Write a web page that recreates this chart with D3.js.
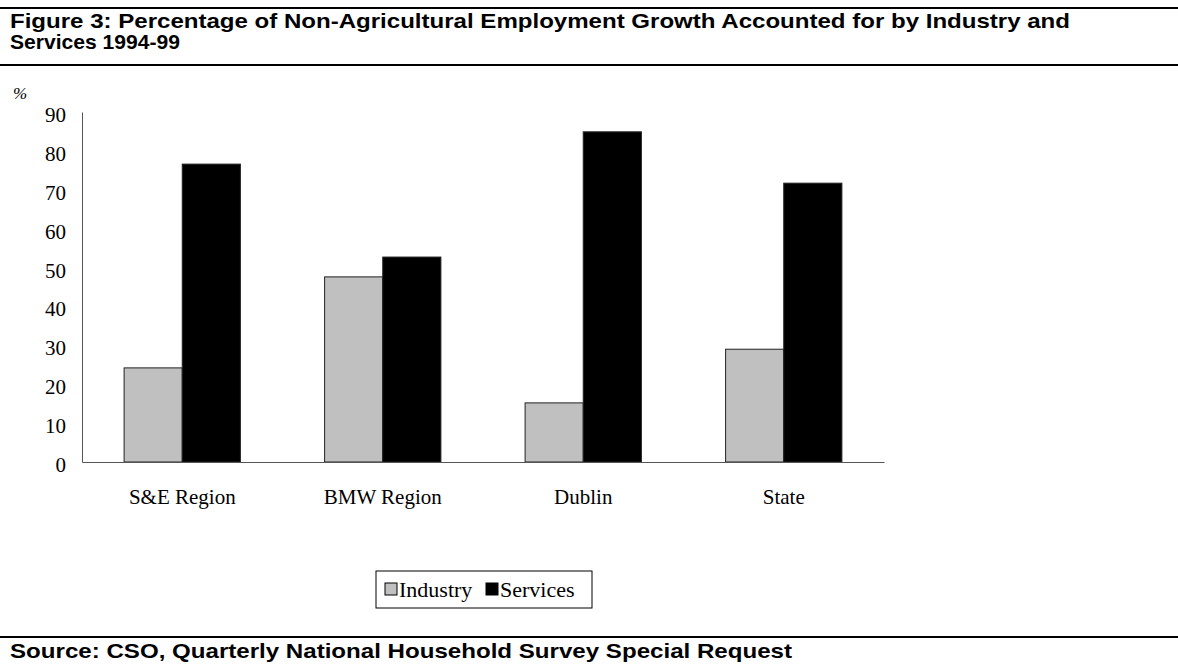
<!DOCTYPE html>
<html>
  <head>
    <meta charset="utf-8" />
    <style>
      body { margin: 0; background: #fff; }
      svg { display: block; }
    </style>
  </head>
  <body>
    <svg></svg>
    <script src="https://d3js.org/d3.v7.min.js"></script>
    <script>
      let width = 1178,
        height = 664;

      // data
      let categories = ["S&E Region", "BMW Region", "Dublin", "State"];
      let seriesNames = ["Industry", "Services"];
      let industry = [24.2, 47.6, 15.2, 29.0];
      let services = [76.6, 52.7, 84.9, 71.7];
      let yTicks = [0, 10, 20, 30, 40, 50, 60, 70, 80, 90];
      let colors = ["#c0c0c0", "#000000"];

      let svg = d3.select("svg").attr("width", width).attr("height", height);

      // header and footer rules + text
      [8, 65, 637].forEach((ly) => {
        svg.append("line").attr("x1", 0).attr("x2", width).attr("y1", ly).attr("y2", ly)
          .attr("stroke", "#000").attr("stroke-width", 2);
      });

      let titleFont = "'Liberation Sans', Arial, sans-serif";
      let heads = [
        { t: "Figure 3: Percentage of Non-Agricultural Employment Growth Accounted for by Industry and", y: 28, w: 1060 },
        { t: "Services 1994-99", y: 49, w: 170 },
        { t: "Source: CSO, Quarterly National Household Survey Special Request", y: 658, w: 782 },
      ];
      heads.forEach((h) => {
        svg.append("text").attr("x", 10).attr("y", h.y)
          .attr("textLength", h.w).attr("lengthAdjust", "spacingAndGlyphs")
          .style("font-family", titleFont).style("font-weight", "bold").style("font-size", "21px")
          .text(h.t);
      });

      let serif = "'Liberation Serif', 'Times New Roman', serif";

      // scales
      let x = d3.scaleBand().domain(categories).range([82, 884])
        .paddingInner(0.42).paddingOuter(0.21);
      let xSub = d3.scaleBand().domain(seriesNames).range([0, x.bandwidth()]);
      let y = d3.scaleLinear().domain([0, 90]).range([462, 112]);

      // y axis
      let yAxis = svg.append("g").attr("transform", "translate(82,0)")
        .call(d3.axisLeft(y).tickValues(yTicks).tickSize(0).tickPadding(16));
      yAxis.select(".domain").attr("stroke", "#555");
      yAxis.selectAll("text").style("font-family", serif).style("font-size", "21px")
        .attr("fill", "#000").attr("dy", "0.45em");

      svg.append("text").attr("x", 13).attr("y", 99)
        .style("font-family", serif).style("font-style", "italic").style("font-size", "17px")
        .text("%");

      // bars
      let rows = categories.map((c, i) => ({ cat: c, vals: [industry[i], services[i]] }));
      svg.append("g").selectAll("g").data(rows).enter().append("g")
        .attr("transform", (d) => "translate(" + x(d.cat) + ",0)")
        .selectAll("rect")
        .data((d) => d.vals.map((v, j) => ({ name: seriesNames[j], v: v, color: colors[j] })))
        .enter().append("rect")
        .attr("x", (d) => xSub(d.name))
        .attr("y", (d) => y(d.v))
        .attr("width", xSub.bandwidth())
        .attr("height", (d) => y(0) - y(d.v))
        .attr("fill", (d) => d.color)
        .attr("stroke", "#222")
        .attr("stroke-width", 1);

      // x axis
      let xAxis = svg.append("g").attr("transform", "translate(0,462)")
        .call(d3.axisBottom(x).tickSize(0).tickPadding(27));
      xAxis.select(".domain").attr("stroke", "#555");
      xAxis.selectAll("text").style("font-family", serif).style("font-size", "21px").attr("fill", "#000");

      // legend
      let legend = svg.append("g");
      legend.append("rect").attr("x", 376).attr("y", 571).attr("width", 216).attr("height", 37)
        .attr("fill", "#fff").attr("stroke", "#000").attr("stroke-width", 1);
      let legendX = [385, 486];
      seriesNames.forEach((s, i) => {
        legend.append("rect").attr("x", legendX[i]).attr("y", 583).attr("width", 12).attr("height", 12)
          .attr("fill", colors[i]).attr("stroke", "#000").attr("stroke-width", 1);
        legend.append("text").attr("x", legendX[i] + 14).attr("y", 597)
          .style("font-family", serif).style("font-size", "22px").text(s);
      });
    </script>
  </body>
</html>
